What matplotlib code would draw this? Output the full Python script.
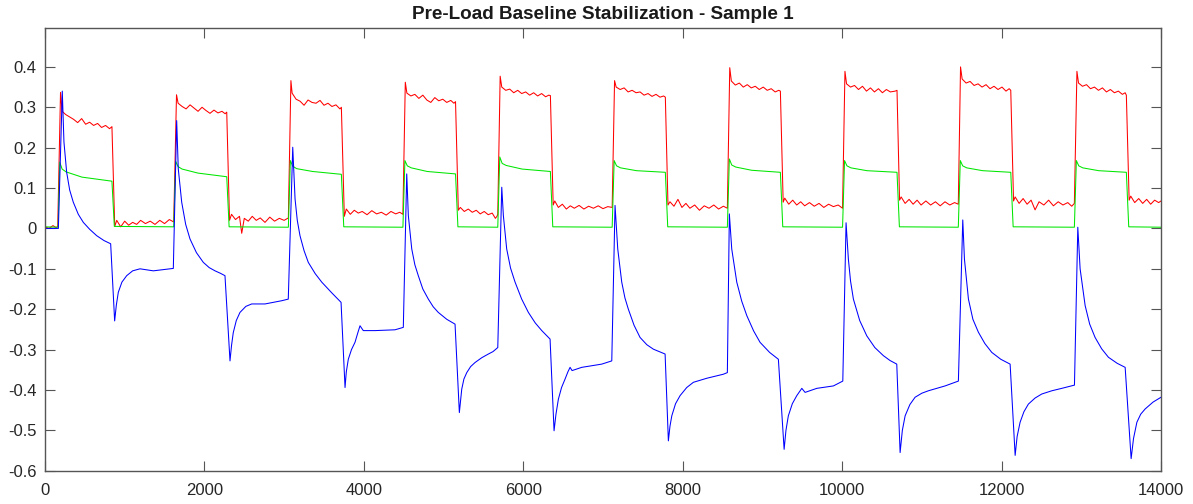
import matplotlib
matplotlib.use("Agg")
import matplotlib.pyplot as plt

plt.rcParams.update({"font.family": ["Liberation Sans", "DejaVu Sans"],
                     "axes.unicode_minus": False})

# ---------------------------------------------------------------- data
# blue trace: spikes at each step-up, dips at each step-down
blue_t = [0, 168, 217, 238, 272, 310, 355, 418, 481, 560, 649, 740, 824,
          874, 895, 920, 965, 1025, 1100, 1192, 1359, 1610,
          1652, 1672, 1715, 1765, 1819, 1900, 1986, 2060, 2133, 2200, 2258,
          2321, 2340, 2362, 2400, 2446, 2520, 2593, 2760, 2970, 3052,
          3108, 3137, 3165, 3199, 3250, 3303, 3390, 3472, 3600, 3714,
          3764, 3780, 3805, 3845, 3889, 3925, 3952, 3993, 4140, 4391, 4495,
          4538, 4558, 4601, 4640, 4683, 4740, 4809, 4870, 4934, 5040, 5144,
          5198, 5228, 5255, 5291, 5340, 5395, 5480, 5562, 5620, 5680,
          5730, 5750, 5792, 5840, 5897, 5980, 6064, 6150, 6232, 6336,
          6386, 6410, 6440, 6480, 6524, 6560, 6587, 6612, 6733, 6984, 7110,
          7151, 7185, 7235, 7275, 7318, 7390, 7465, 7550, 7632, 7779,
          7820, 7840, 7863, 7910, 7967, 8050, 8134, 8302, 8510, 8560,
          8585, 8615, 8678, 8740, 8804, 8890, 8970, 9090, 9200,
          9272, 9295, 9325, 9375, 9431, 9494, 9535, 9682, 9890, 10008,
          10049, 10078, 10105, 10141, 10220, 10309, 10410, 10517, 10600, 10685,
          10727, 10755, 10790, 10850, 10915, 11000, 11082, 11291, 11458,
          11513, 11534, 11584, 11640, 11709, 11790, 11877, 11990, 12107,
          12170, 12195, 12232, 12280, 12336, 12420, 12504, 12630, 12755, 12914,
          12956, 12985, 13048, 13105, 13173, 13255, 13340, 13450, 13550,
          13625, 13655, 13697, 13745, 13801, 13900, 14000]
blue_v = [0.0, 0.0, 0.340, 0.214, 0.139, 0.095, 0.065, 0.035, 0.015, -0.002, -0.018, -0.030, -0.038,
          -0.229, -0.190, -0.158, -0.133, -0.117, -0.105, -0.100, -0.105, -0.099,
          0.267, 0.148, 0.065, 0.010, -0.026, -0.060, -0.084, -0.097, -0.105, -0.111, -0.117,
          -0.328, -0.290, -0.258, -0.228, -0.208, -0.193, -0.187, -0.187, -0.179, -0.175,
          0.201, 0.073, 0.020, -0.018, -0.055, -0.084, -0.112, -0.133, -0.160, -0.183,
          -0.394, -0.355, -0.324, -0.300, -0.282, -0.258, -0.241, -0.253, -0.253, -0.251, -0.245,
          0.135, 0.032, -0.051, -0.090, -0.117, -0.150, -0.175, -0.194, -0.208, -0.225, -0.237,
          -0.456, -0.398, -0.373, -0.357, -0.342, -0.332, -0.320, -0.311, -0.305, -0.295,
          0.102, 0.032, -0.051, -0.098, -0.133, -0.175, -0.208, -0.234, -0.253, -0.274,
          -0.501, -0.460, -0.423, -0.394, -0.373, -0.355, -0.344, -0.352, -0.344, -0.336, -0.328,
          0.057, -0.051, -0.133, -0.172, -0.200, -0.240, -0.270, -0.288, -0.299, -0.311,
          -0.526, -0.490, -0.464, -0.434, -0.414, -0.394, -0.381, -0.371, -0.361, -0.357,
          0.036, -0.051, -0.133, -0.180, -0.216, -0.254, -0.282, -0.307, -0.324,
          -0.547, -0.500, -0.464, -0.434, -0.414, -0.396, -0.406, -0.396, -0.390, -0.378,
          0.014, -0.076, -0.130, -0.175, -0.228, -0.266, -0.295, -0.315, -0.327, -0.336,
          -0.555, -0.500, -0.464, -0.436, -0.418, -0.408, -0.402, -0.390, -0.378,
          0.021, -0.076, -0.175, -0.225, -0.257, -0.285, -0.307, -0.324, -0.336,
          -0.562, -0.515, -0.480, -0.454, -0.435, -0.420, -0.410, -0.402, -0.396, -0.388,
          0.003, -0.100, -0.191, -0.237, -0.270, -0.298, -0.319, -0.334, -0.344,
          -0.570, -0.520, -0.480, -0.460, -0.447, -0.430, -0.418]

# green trace: square wave with a small overshoot and slow sag
green_t = [0, 165,
           185, 215, 265, 465, 840, 870, 1615,
           1640, 1670, 1720, 1920, 2280, 2310, 3053,
           3078, 3108, 3158, 3358, 3718, 3748, 4490,
           4515, 4545, 4595, 4795, 5150, 5180, 5680,
           5705, 5735, 5785, 5985, 6340, 6370, 7115,
           7140, 7170, 7220, 7420, 7782, 7812, 8560,
           8585, 8615, 8665, 8865, 9225, 9255, 10005,
           10030, 10060, 10110, 10310, 10688, 10718, 11457,
           11482, 11512, 11562, 11762, 12115, 12145, 12913,
           12938, 12968, 13018, 13218, 13565, 13595, 14000]
green_v = [0.004, 0.003,
           0.164, 0.147, 0.140, 0.127, 0.117, 0.005, 0.004,
           0.166, 0.153, 0.147, 0.137, 0.128, 0.004, 0.003,
           0.168, 0.154, 0.148, 0.141, 0.134, 0.004, 0.003,
           0.168, 0.155, 0.150, 0.141, 0.135, 0.004, 0.003,
           0.177, 0.161, 0.156, 0.147, 0.141, 0.004, 0.003,
           0.168, 0.155, 0.150, 0.143, 0.139, 0.004, 0.003,
           0.172, 0.157, 0.152, 0.144, 0.139, 0.004, 0.003,
           0.168, 0.155, 0.150, 0.143, 0.139, 0.004, 0.003,
           0.168, 0.155, 0.150, 0.143, 0.139, 0.004, 0.003,
           0.168, 0.155, 0.150, 0.143, 0.139, 0.004, 0.003]

# red trace: noisy square wave with a rising baseline
red_t = [0, 50, 100, 140, 160,
         195, 215, 260, 310, 360, 410, 460, 510, 560, 610, 660, 710, 760, 810, 840,
         875, 900, 950, 1000, 1050, 1100, 1150, 1200, 1260, 1320, 1380, 1440, 1500, 1560, 1615,
         1650, 1670, 1720, 1770, 1820, 1870, 1920, 1970, 2020, 2070, 2120, 2170, 2220, 2260, 2280,
         2315, 2340, 2390, 2440, 2468, 2500, 2550, 2600, 2650, 2700, 2760, 2820, 2880, 2940, 3000, 3053,
         3085, 3100, 3150, 3200, 3250, 3300, 3350, 3400, 3450, 3500, 3550, 3600, 3650, 3700, 3718,
         3755, 3780, 3830, 3880, 3930, 3980, 4040, 4100, 4160, 4220, 4280, 4340, 4400, 4450, 4490,
         4520, 4540, 4590, 4640, 4690, 4740, 4790, 4840, 4890, 4940, 4990, 5040, 5090, 5130, 5150,
         5185, 5210, 5260, 5310, 5360, 5410, 5460, 5510, 5560, 5610, 5650, 5670, 5680,
         5710, 5730, 5780, 5830, 5880, 5930, 5980, 6030, 6080, 6130, 6180, 6230, 6280, 6320, 6340,
         6375, 6395, 6440, 6490, 6540, 6590, 6640, 6700, 6760, 6820, 6880, 6940, 7000, 7060, 7115,
         7145, 7165, 7215, 7265, 7315, 7365, 7415, 7465, 7515, 7565, 7615, 7665, 7715, 7760, 7782,
         7815, 7840, 7890, 7940, 7990, 8040, 8090, 8150, 8210, 8270, 8330, 8390, 8450, 8510, 8560,
         8590, 8610, 8660, 8710, 8760, 8810, 8860, 8910, 8960, 9010, 9060, 9110, 9160, 9205, 9225,
         9260, 9280, 9330, 9380, 9430, 9480, 9530, 9590, 9650, 9710, 9770, 9830, 9890, 9950, 10005,
         10035, 10055, 10105, 10155, 10205, 10255, 10305, 10355, 10405, 10455, 10505, 10555, 10605, 10665, 10688,
         10720, 10740, 10790, 10840, 10890, 10940, 10990, 11050, 11110, 11170, 11230, 11290, 11350, 11410, 11457,
         11485, 11505, 11555, 11605, 11655, 11705, 11755, 11805, 11855, 11905, 11955, 12005, 12055, 12095, 12115,
         12150, 12170, 12220, 12270, 12320, 12370, 12420, 12470, 12530, 12590, 12650, 12710, 12770, 12830, 12880, 12913,
         12945, 12965, 13015, 13065, 13115, 13165, 13215, 13265, 13315, 13365, 13415, 13465, 13515, 13550, 13565,
         13600, 13620, 13670, 13720, 13770, 13820, 13870, 13920, 13970, 14000]
red_v = [0.004, 0.000, 0.007, 0.002, 0.005,
         0.337, 0.290, 0.282, 0.276, 0.270, 0.262, 0.272, 0.258, 0.263, 0.255, 0.260, 0.250, 0.255, 0.247, 0.252,
         0.005, 0.020, 0.004, 0.018, 0.008, 0.015, 0.010, 0.020, 0.012, 0.018, 0.010, 0.020, 0.012, 0.022, 0.016,
         0.331, 0.310, 0.302, 0.296, 0.306, 0.298, 0.290, 0.300, 0.292, 0.285, 0.293, 0.286, 0.290, 0.284, 0.288,
         0.020, 0.035, 0.022, 0.030, -0.012, 0.025, 0.018, 0.030, 0.020, 0.026, 0.015, 0.028, 0.018, 0.025, 0.020, 0.026,
         0.366, 0.335, 0.320, 0.315, 0.305, 0.318, 0.312, 0.310, 0.317, 0.305, 0.310, 0.302, 0.306, 0.296, 0.300,
         0.030, 0.048, 0.035, 0.045, 0.038, 0.042, 0.034, 0.044, 0.036, 0.040, 0.033, 0.042, 0.036, 0.040, 0.035,
         0.362, 0.335, 0.328, 0.332, 0.322, 0.330, 0.318, 0.312, 0.324, 0.316, 0.320, 0.312, 0.317, 0.310, 0.314,
         0.045, 0.052, 0.042, 0.048, 0.040, 0.045, 0.036, 0.042, 0.034, 0.038, 0.025, 0.030, 0.035,
         0.377, 0.350, 0.342, 0.345, 0.336, 0.342, 0.334, 0.338, 0.330, 0.336, 0.328, 0.334, 0.326, 0.330, 0.329,
         0.058, 0.068, 0.052, 0.060, 0.048, 0.056, 0.050, 0.057, 0.048, 0.055, 0.050, 0.056, 0.049, 0.054, 0.052,
         0.366, 0.350, 0.344, 0.348, 0.338, 0.342, 0.336, 0.338, 0.330, 0.334, 0.327, 0.332, 0.325, 0.328, 0.325,
         0.058, 0.066, 0.055, 0.072, 0.052, 0.062, 0.050, 0.058, 0.045, 0.056, 0.050, 0.058, 0.048, 0.055, 0.050,
         0.398, 0.365, 0.355, 0.360, 0.350, 0.356, 0.348, 0.352, 0.344, 0.350, 0.342, 0.346, 0.338, 0.342, 0.340,
         0.065, 0.075, 0.060, 0.070, 0.058, 0.066, 0.056, 0.064, 0.055, 0.062, 0.052, 0.060, 0.054, 0.058, 0.050,
         0.389, 0.358, 0.350, 0.354, 0.344, 0.352, 0.340, 0.348, 0.338, 0.346, 0.336, 0.344, 0.338, 0.340, 0.342,
         0.070, 0.078, 0.062, 0.072, 0.060, 0.070, 0.058, 0.068, 0.058, 0.066, 0.056, 0.066, 0.058, 0.064, 0.060,
         0.400, 0.370, 0.360, 0.364, 0.354, 0.358, 0.350, 0.356, 0.346, 0.352, 0.344, 0.350, 0.340, 0.346, 0.342,
         0.068, 0.078, 0.062, 0.074, 0.060, 0.070, 0.046, 0.066, 0.058, 0.070, 0.056, 0.066, 0.058, 0.064, 0.055, 0.062,
         0.389, 0.360, 0.352, 0.356, 0.346, 0.350, 0.342, 0.348, 0.338, 0.344, 0.336, 0.340, 0.332, 0.336, 0.330,
         0.070, 0.080, 0.064, 0.074, 0.062, 0.072, 0.060, 0.070, 0.064, 0.068]

x_ticks = [0, 2000, 4000, 6000, 8000, 10000, 12000, 14000]
y_ticks = [-0.6, -0.5, -0.4, -0.3, -0.2, -0.1, 0, 0.1, 0.2, 0.3, 0.4]
TITLE = "Pre-Load Baseline Stabilization - Sample 1"

# ---------------------------------------------------------------- chart
fig = plt.figure(figsize=(11.93, 5.04), dpi=100)
ax = fig.add_axes([0.0377, 0.066, 0.9355, 0.879])

ax.plot(red_t, red_v, color="#ff0000", lw=0.75)
ax.plot(green_t, green_v, color="#00e600", lw=0.75)
ax.plot(blue_t, blue_v, color="#0000ff", lw=0.75)

ax.set_xlim(0, 14000)
ax.set_ylim(-0.6, 0.497)
ax.set_xticks(x_ticks)
ax.set_xticklabels([str(v) for v in x_ticks])
ax.set_yticks(y_ticks)
ax.set_yticklabels([f"{v:g}" for v in y_ticks])
ax.tick_params(direction="in", length=7, width=0.8, colors="#555555", labelcolor="#262626",
               labelsize=12, top=True, right=True)
ax.tick_params(axis="x", pad=9)
ax.tick_params(axis="y", pad=6)
for s in ax.spines.values():
    s.set_color("#555555"); s.set_linewidth(1.0)
ax.set_title(TITLE, fontsize=13.6, fontweight="bold", color="#1a1a1a", pad=6)

fig.savefig("out.png", dpi=100)
